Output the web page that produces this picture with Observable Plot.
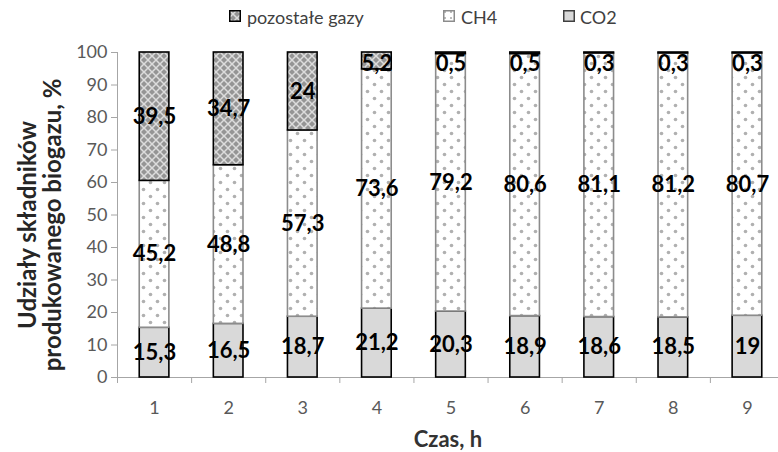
<!DOCTYPE html>
<html><head><meta charset="utf-8">
<script src="https://cdn.jsdelivr.net/npm/d3@7"></script>
<script src="https://cdn.jsdelivr.net/npm/@observablehq/plot@0.6"></script>
<style>
body{margin:0;background:#fff;font-family:Lato,sans-serif;}
#wrap{width:778px;height:452px;position:relative;overflow:hidden;background:#fff}
#legend{position:relative;height:32px;color:#404040}
.sw{position:absolute;top:10px;width:12px;height:12px;}
.lt{position:absolute;top:6px;font-family:Lato,sans-serif;font-size:18px;line-height:22px;white-space:nowrap;color:#404040}
#defs{position:absolute;width:0;height:0;overflow:hidden}
</style></head><body>
<svg id="defs" width="0" height="0">
  <defs>
    <pattern id="pat-gazy" width="8" height="8" patternUnits="userSpaceOnUse">
      <rect width="8" height="8" fill="#959595"></rect>
      <path d="M0,0L8,8M8,0L0,8" stroke="#dcdcdc" stroke-width="1.5"></path>
    </pattern>
    <pattern id="pat-ch4" width="14" height="14" patternUnits="userSpaceOnUse">
      <rect width="14" height="14" fill="#ffffff"></rect>
      <circle cx="3.5" cy="3.5" r="1.8" fill="#b0b0b0"></circle>
      <circle cx="10.5" cy="10.5" r="1.8" fill="#b0b0b0"></circle>
    </pattern>
    <pattern id="pat-ch4-sw" width="6" height="6" patternUnits="userSpaceOnUse">
      <rect width="6" height="6" fill="#ffffff"></rect>
      <circle cx="2" cy="2" r="1" fill="#a6a6a6"></circle>
    </pattern>
  </defs>
</svg>
<div id="wrap">
  <div id="legend"></div>
  <div id="chart"></div>
</div>
<script>
// ---- data ----
const czas = [1, 2, 3, 4, 5, 6, 7, 8, 9];
const co2 = [15.3, 16.5, 18.7, 21.2, 20.3, 18.9, 18.6, 18.5, 19];
const ch4 = [45.2, 48.8, 57.3, 73.6, 79.2, 80.6, 81.1, 81.2, 80.7];
const pozostale = [39.5, 34.7, 24, 5.2, 0.5, 0.5, 0.3, 0.3, 0.3];
const yTicks = [0, 10, 20, 30, 40, 50, 60, 70, 80, 90, 100];
const seriesNames = ["CO2", "CH4", "pozostałe gazy"];
const seriesValues = [co2, ch4, pozostale];
const legendOrder = ["pozostałe gazy", "CH4", "CO2"];

// ---- styles ----
const fillOf = {"CO2": "#d9d9d9", "CH4": "url(#pat-ch4)", "pozostałe gazy": "url(#pat-gazy)"};
const strokeOf = {"CO2": "#000000", "CH4": "#8c8c8c", "pozostałe gazy": "#000000"};
const swFill = {"CO2": "#d9d9d9", "CH4": "url(#pat-ch4-sw)", "pozostałe gazy": "url(#pat-gazy)"};
const swStroke = {"CO2": "#404040", "CH4": "#8c8c8c", "pozostałe gazy": "#000000"};
const legendPos = {"pozostałe gazy": [229, 247], "CH4": [443, 461], "CO2": [563, 580]};

// stacked table
const rows = [];
czas.forEach((t, i) => {
  let base = 0;
  seriesNames.forEach((s, k) => {
    const v = seriesValues[k][i];
    rows.push({t, series: s, value: v, y1: base, y2: base + v,
               ly: Math.min(base + v / 2, 96.4),
               label: String(v).replace(".", ",")});
    base += v;
  });
});
const halfW = 0.2;
const boundaries = czas.map(t => t - 0.5).concat([czas[czas.length - 1] + 0.5]);

// legend
const leg = document.getElementById("legend");
legendOrder.forEach(s => {
  const [sx, tx] = legendPos[s];
  const sw = document.createElementNS("http://www.w3.org/2000/svg", "svg");
  sw.setAttribute("class", "sw");
  sw.setAttribute("width", "12"); sw.setAttribute("height", "12");
  sw.style.left = sx + "px";
  sw.innerHTML = `<rect x="0.75" y="0.75" width="10.5" height="10.5" fill="${swFill[s]}" stroke="${swStroke[s]}" stroke-width="1.5"></rect>`;
  leg.appendChild(sw);
  const tx_ = document.createElement("span");
  tx_.className = "lt"; tx_.style.left = tx + "px"; tx_.textContent = s;
  leg.appendChild(tx_);
});

const axisGray = "#a6a6a6";
const chart = Plot.plot({
  width: 778, height: 420,
  marginTop: 20, marginBottom: 75, marginLeft: 117, marginRight: 0,
  x: {type: "linear", domain: [0.5, 9.5], range: [117, 784], axis: null, label: null},
  y: {domain: [0, 100], axis: null, label: null},
  color: {type: "identity"},
  style: {fontFamily: "Lato, sans-serif", background: "white", overflow: "visible"},
  marks: [
    Plot.ruleY([0], {stroke: axisGray, strokeWidth: 1}),
    Plot.ruleX([0.5], {y1: 0, y2: 100, stroke: axisGray, strokeWidth: 1}),
    Plot.axisY(yTicks, {tickSize: 6, tickPadding: 4, fontSize: 18, stroke: axisGray, fill: "#595959", label: null}),
    Plot.axisX(boundaries, {tickSize: 6, tickFormat: () => "", stroke: axisGray, label: null}),
    Plot.axisX(czas, {tickSize: 0, tickPadding: 24, fontSize: 18, fill: "#595959", label: null}),
    Plot.rectY(rows, {
      x1: d => d.t - halfW, x2: d => d.t + halfW, y1: "y1", y2: "y2",
      fill: d => fillOf[d.series], stroke: d => strokeOf[d.series], strokeWidth: 1.6
    }),
    Plot.text(rows, {x: "t", y: "ly", text: "label", fontSize: 22, fontWeight: "bold", fill: "#000", lineAnchor: "middle"}),
    Plot.text(["Czas, h"], {frameAnchor: "bottom", lineAnchor: "top", dy: 54, fontSize: 22, fontWeight: "bold", fill: "#333"}),
    Plot.text(["Udziały składników\nprodukowanego biogazu, %"], {
      frameAnchor: "left", rotate: -90, dx: -77, dy: 10, textAnchor: "middle", lineAnchor: "middle",
      lineHeight: 1.05, fontSize: 24, fontWeight: "bold", fill: "#262626"
    })
  ]
});
document.getElementById("chart").appendChild(chart);
</script>
</body></html>
